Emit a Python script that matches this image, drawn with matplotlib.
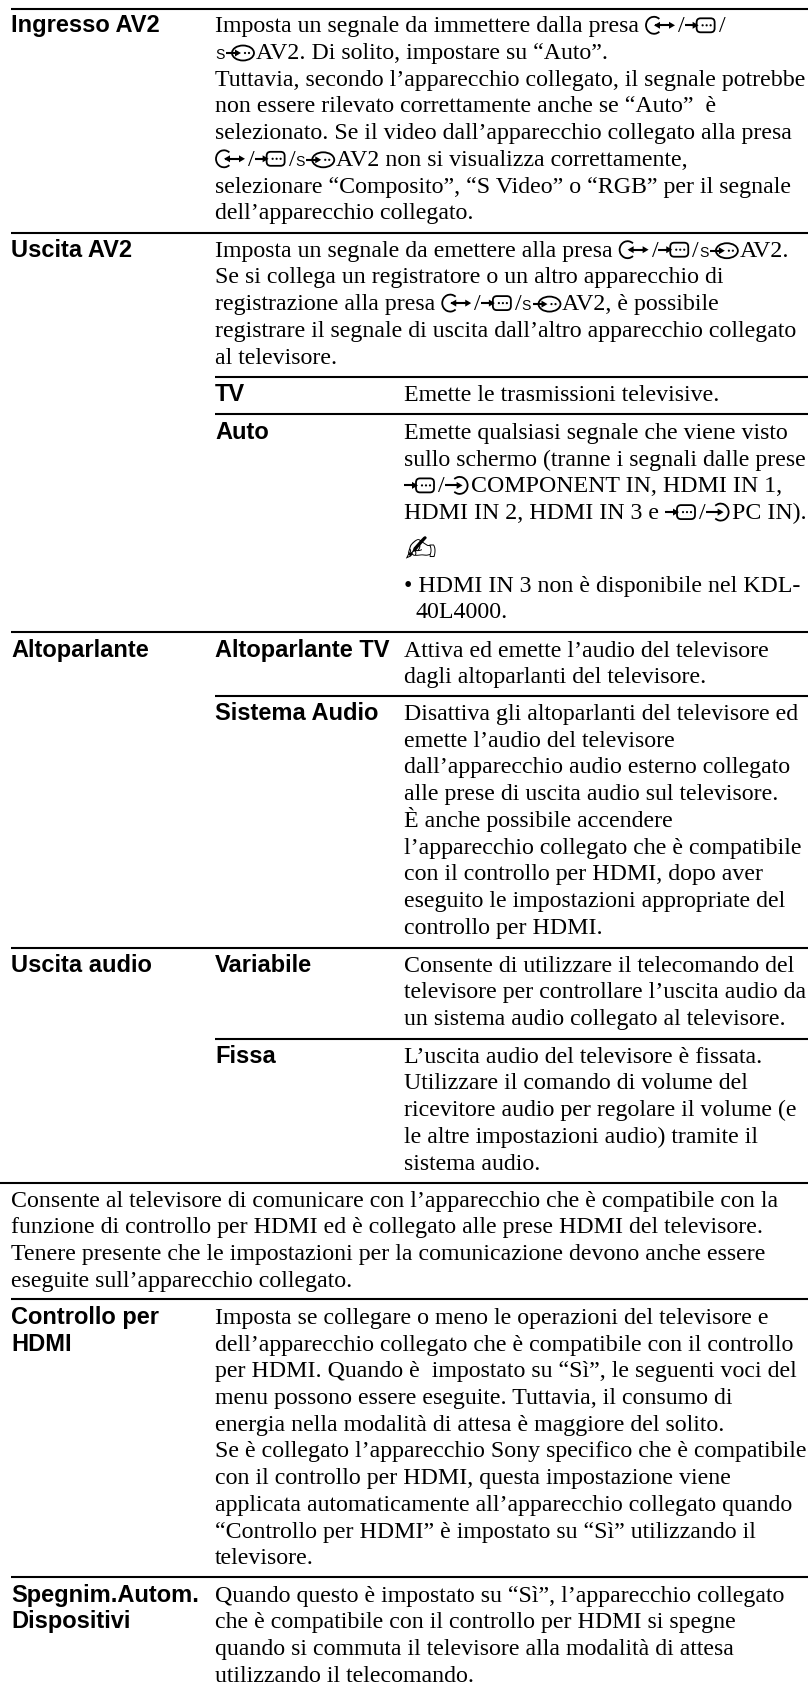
# -*- coding: utf-8 -*-
import matplotlib
matplotlib.use("Agg")
import matplotlib.pyplot as plt
from matplotlib.font_manager import FontProperties
from matplotlib.patches import Arc, Circle, Ellipse, FancyBboxPatch, Polygon

# text of the table. {a} {b} {s} {c} stand for the socket symbols
ingresso_label = ["Ingresso AV2"]
ingresso_text = [
    "Imposta un segnale da immettere dalla presa {a}/{b}/",
    "{s}AV2. Di solito, impostare su “Auto”.",
    "Tuttavia, secondo l’apparecchio collegato, il segnale potrebbe",
    "non essere rilevato correttamente anche se “Auto”  è",
    "selezionato. Se il video dall’apparecchio collegato alla presa",
    "{a}/{b}/{s}AV2 non si visualizza correttamente,",
    "selezionare “Composito”, “S Video” o “RGB” per il segnale",
    "dell’apparecchio collegato.",
]
uscita_label = ["Uscita AV2"]
uscita_text = [
    "Imposta un segnale da emettere alla presa {a}/{b}/{s}AV2.",
    "Se si collega un registratore o un altro apparecchio di",
    "registrazione alla presa {a}/{b}/{s}AV2, è possibile",
    "registrare il segnale di uscita dall’altro apparecchio collegato",
    "al televisore.",
]
tv_label = ["TV"]
tv_text = ["Emette le trasmissioni televisive."]
auto_label = ["Auto"]
auto_text = [
    "Emette qualsiasi segnale che viene visto",
    "sullo schermo (tranne i segnali dalle prese",
    "{b}/{c}COMPONENT IN, HDMI IN 1,",
    "HDMI IN 2, HDMI IN 3 e {b}/{c}PC IN).",
]
auto_note_first = ["• HDMI IN 3 non è disponibile nel KDL-"]
auto_note_rest = ["40L4000."]
alto_label = ["Altoparlante"]
alto_tv_label = ["Altoparlante TV"]
alto_tv_text = [
    "Attiva ed emette l’audio del televisore",
    "dagli altoparlanti del televisore.",
]
sistema_label = ["Sistema Audio"]
sistema_text = [
    "Disattiva gli altoparlanti del televisore ed",
    "emette l’audio del televisore",
    "dall’apparecchio audio esterno collegato",
    "alle prese di uscita audio sul televisore.",
    "È anche possibile accendere",
    "l’apparecchio collegato che è compatibile",
    "con il controllo per HDMI, dopo aver",
    "eseguito le impostazioni appropriate del",
    "controllo per HDMI.",
]
uscita_audio_label = ["Uscita audio"]
variabile_label = ["Variabile"]
variabile_text = [
    "Consente di utilizzare il telecomando del",
    "televisore per controllare l’uscita audio da",
    "un sistema audio collegato al televisore.",
]
fissa_label = ["Fissa"]
fissa_text = [
    "L’uscita audio del televisore è fissata.",
    "Utilizzare il comando di volume del",
    "ricevitore audio per regolare il volume (e",
    "le altre impostazioni audio) tramite il",
    "sistema audio.",
]
consente_text = [
    "Consente al televisore di comunicare con l’apparecchio che è compatibile con la",
    "funzione di controllo per HDMI ed è collegato alle prese HDMI del televisore.",
    "Tenere presente che le impostazioni per la comunicazione devono anche essere",
    "eseguite sull’apparecchio collegato.",
]
controllo_label = ["Controllo per", "HDMI"]
controllo_text = [
    "Imposta se collegare o meno le operazioni del televisore e",
    "dell’apparecchio collegato che è compatibile con il controllo",
    "per HDMI. Quando è  impostato su “Sì”, le seguenti voci del",
    "menu possono essere eseguite. Tuttavia, il consumo di",
    "energia nella modalità di attesa è maggiore del solito.",
    "Se è collegato l’apparecchio Sony specifico che è compatibile",
    "con il controllo per HDMI, questa impostazione viene",
    "applicata automaticamente all’apparecchio collegato quando",
    "“Controllo per HDMI” è impostato su “Sì” utilizzando il",
    "televisore.",
]
spegnim_label = ["Spegnim.Autom.", "Dispositivi"]
spegnim_text = [
    "Quando questo è impostato su “Sì”, l’apparecchio collegato",
    "che è compatibile con il controllo per HDMI si spegne",
    "quando si commuta il televisore alla modalità di attesa",
    "utilizzando il telecomando.",
]

W, H = 808, 1689
LEAD = 26.7
COL1, COL2, COL3 = 11, 215, 404
PX = 0.72  # points per pixel at dpi 100

serif = FontProperties(family="Liberation Serif", size=23.9 * PX)
sans = FontProperties(family="Liberation Sans", weight="bold", size=23.6 * PX)

fig = plt.figure(figsize=(W / 100, H / 100), dpi=100, facecolor="white")
ax = fig.add_axes([0, 0, 1, 1])
ax.set_xlim(0, W)
ax.set_ylim(H, 0)
ax.axis("off")
renderer = fig.canvas.get_renderer()


def text_width(s):
    w1 = renderer.get_text_width_height_descent("x" + s + "x", serif, False)[0]
    w2 = renderer.get_text_width_height_descent("xx", serif, False)[0]
    return w1 - w2


def arrow(x0, x1, y, double=False):
    ax.plot([x0, x1 - 3], [y, y], color="k", lw=1.5, solid_capstyle="butt")
    ax.add_patch(Polygon([[x1, y], [x1 - 6, y - 3.5], [x1 - 6, y + 3.5]], color="k", lw=0))
    if double:
        ax.add_patch(Polygon([[x0 - 1, y], [x0 + 5, y - 3.5], [x0 + 5, y + 3.5]], color="k", lw=0))


def dots(xs, y):
    for x in xs:
        ax.add_patch(Circle((x, y), 1.1, color="k", lw=0))


def icon_a(x, y):
    ax.add_patch(Arc((x + 9, y - 7), 16, 17, theta1=50, theta2=310, color="k", lw=1.3))
    arrow(x + 10, x + 30, y - 7, double=True)
    return 32


def icon_b(x, y):
    ax.add_patch(FancyBboxPatch((x + 12, y - 14), 18, 14, boxstyle="round,pad=0,rounding_size=4",
                                fc="white", ec="k", lw=1.3))
    arrow(x, x + 14, y - 7)
    dots([x + 18, x + 22, x + 26], y - 7)
    return 33


def icon_s(x, y):
    ax.text(x, y, "S", fontfamily="Liberation Sans", fontsize=14 * PX, color="k", va="baseline")
    ax.add_patch(Ellipse((x + 28, y - 6), 22, 15, fc="white", ec="k", lw=1.3))
    arrow(x + 11, x + 26, y - 6)
    dots([x + 30, x + 34], y - 6)
    return 40


def icon_c(x, y):
    ax.add_patch(Arc((x + 15, y - 7), 16, 17, theta1=-130, theta2=130, color="k", lw=1.3))
    arrow(x, x + 18, y - 7)
    return 25


ICONS = {"a": icon_a, "b": icon_b, "s": icon_s, "c": icon_c}


def draw_line(s, x, y):
    # split on the {x} markers and put text and symbols one after the other
    while s:
        i = s.find("{")
        if i < 0:
            ax.text(x, y, s, fontproperties=serif, color="k", va="baseline")
            return
        part = s[:i]
        if part:
            ax.text(x, y, part, fontproperties=serif, color="k", va="baseline")
            x += text_width(part)
        x += ICONS[s[i + 1]](x, y) + 1
        s = s[i + 3:]


def block(lines, x, y):
    for n, line in enumerate(lines):
        draw_line(line, x, y + n * LEAD)


def labels(lines, x, y):
    for n, line in enumerate(lines):
        ax.text(x, y + n * LEAD, line, fontproperties=sans, color="k", va="baseline")


def rule(y, x0=COL1):
    ax.plot([x0, W], [y, y], color="k", lw=1.5, solid_capstyle="butt")


rule(9)
labels(ingresso_label, COL1, 32.3)
block(ingresso_text, COL2, 32.3)

rule(232.7)
labels(uscita_label, COL1, 256.7)
block(uscita_text, COL2, 256.7)

rule(376.7, COL2)
labels(tv_label, COL2, 401)
block(tv_text, COL3, 401)

rule(414.3, COL2)
labels(auto_label, COL2, 439)
block(auto_text, COL3, 439)
ax.text(COL3, 562, "\u270d", fontfamily="DejaVu Sans", fontsize=38 * PX, color="k", va="baseline")
block(auto_note_first, COL3, 591.7)
block(auto_note_rest, COL3 + 11, 618.4)

rule(631.7)
labels(alto_label, COL1, 656.7)
labels(alto_tv_label, COL2, 656.7)
block(alto_tv_text, COL3, 656.7)

rule(696, COL2)
labels(sistema_label, COL2, 720)
block(sistema_text, COL3, 720)

rule(947.7)
labels(uscita_audio_label, COL1, 971.7)
labels(variabile_label, COL2, 971.7)
block(variabile_text, COL3, 971.7)

rule(1039, COL2)
labels(fissa_label, COL2, 1062.7)
block(fissa_text, COL3, 1062.7)

rule(1182.7, 0)
block(consente_text, COL1, 1206.7)

rule(1299.3)
labels(controllo_label, COL1, 1324)
block(controllo_text, COL2, 1324)

rule(1576.7)
labels(spegnim_label, COL1, 1601.7)
block(spegnim_text, COL2, 1601.7)

fig.savefig("out.png", dpi=100, facecolor="white")
